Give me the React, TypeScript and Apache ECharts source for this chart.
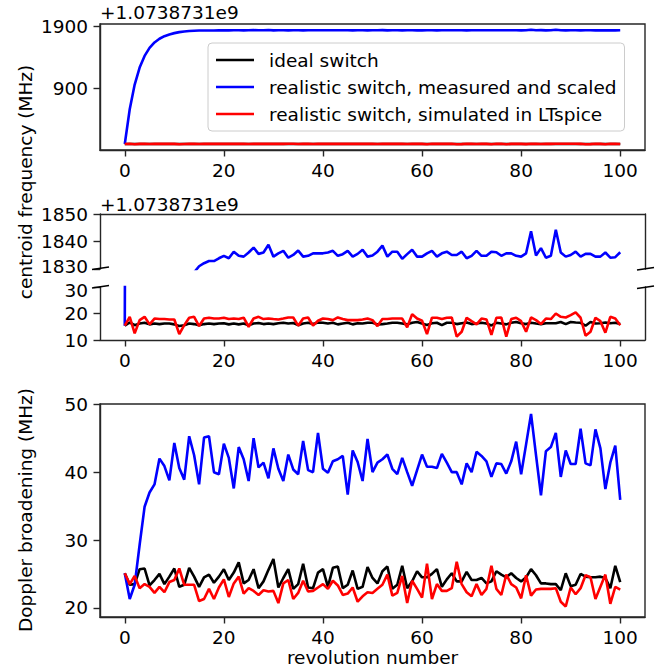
import React, { useEffect, useRef } from 'react';
import * as echarts from 'echarts';

// centroid frequency offsets (MHz) relative to +1.0738731e9
const centroidIdeal = [
  15.4, 16.6, 15.6, 16.2, 16.5, 15.9, 16.2, 16.0, 16.2, 16.2,
  15.9, 15.3, 15.6, 16.2, 16.0, 15.6, 16.0, 16.2, 16.0, 16.2,
  16.3, 15.9, 16.2, 15.9, 16.2, 15.6, 16.2, 16.4, 16.0, 16.2,
  16.0, 16.3, 16.5, 16.2, 16.4, 15.6, 16.2, 16.5, 16.0, 16.6,
  16.5, 16.2, 16.5, 15.9, 16.2, 16.5, 15.9, 16.3, 16.2, 16.5,
  16.5, 15.9, 16.0, 16.2, 16.5, 16.5, 16.2, 15.9, 16.5, 16.8,
  16.2, 15.7, 16.3, 16.5, 15.6, 16.5, 16.5, 16.0, 16.3, 16.6,
  16.0, 16.2, 16.5, 16.2, 15.5, 16.5, 16.2, 15.9, 16.5, 16.8,
  16.3, 16.0, 16.5, 16.2, 16.0, 16.3, 16.3, 16.3, 16.8, 16.0,
  16.8, 16.6, 16.5, 15.4, 16.8, 16.2, 16.3, 16.6, 16.3, 16.5, 16.0,
];
const centroidMeasured = [
  15.4, 572, 967, 1239, 1425, 1553, 1640, 1700, 1741, 1769,
  1790, 1806, 1816, 1823, 1828.8, 1831, 1832.1, 1832.9, 1832.9, 1833.9,
  1834.8, 1833.9, 1836.3, 1834.8, 1834.5, 1836, 1837.8, 1835.5, 1836, 1838.8,
  1834.5, 1835.7, 1836.6, 1834.1, 1835.1, 1836.7, 1834.5, 1834.8, 1835.7, 1835.7,
  1835.7, 1836, 1836.6, 1834.8, 1835.4, 1836.6, 1834.5, 1835.5, 1837, 1834.5,
  1834.9, 1836.3, 1838.5, 1834.5, 1836.3, 1836.3, 1833.7, 1835.4, 1837, 1834.5,
  1834.5, 1835.7, 1836.6, 1834.5, 1835.7, 1836.3, 1835.1, 1835.1, 1836.3, 1833.9,
  1834.8, 1836.6, 1834.8, 1834.8, 1836.3, 1836.1, 1834.8, 1835.7, 1835.7, 1834.8,
  1834.5, 1835.7, 1843.7, 1834.9, 1837.6, 1834.1, 1834.8, 1844.3, 1836, 1834.5,
  1835.1, 1836.3, 1834.5, 1835.5, 1835.5, 1834.5, 1834.5, 1836, 1834.1, 1834.3, 1836.1,
];
const centroidSimulated = [
  15.4, 18.75, 12.5, 17.5, 18.75, 15.9, 18.1, 17.9, 17.9, 17.75,
  17.75, 12.25, 15.6, 18.4, 18.75, 15.25, 18.1, 18.4, 18.1, 18.1,
  18.4, 17.9, 18.1, 17.9, 18.4, 15.0, 18.1, 18.75, 17.9, 18.1,
  17.9, 17.75, 18.1, 18.5, 18.5, 15.4, 18.1, 18.5, 15.4, 17.25,
  18.1, 17.9, 17.5, 18.5, 17.9, 17.5, 17.5, 17.5, 17.75, 18.1,
  17.5, 15.25, 17.9, 17.9, 18.1, 18.1, 18.1, 14.75, 19.75, 18.1,
  17.25, 12.25, 18.4, 18.4, 17.9, 18.4, 18.5, 11.25, 13.1, 18.4,
  17.1, 15.9, 18.1, 17.75, 11.9, 18.4, 18.5, 11.25, 17.9, 18.4,
  17.1, 13.1, 18.5, 17.5, 16.0, 18.1, 17.9, 20.0, 18.75, 18.5,
  19.4, 20.4, 18.4, 11.6, 13.1, 18.4, 17.1, 12.75, 18.75, 18.1, 15.6,
];

// Doppler broadening (MHz)
const dopplerIdeal = [
  25.1, 23.4, 23.5, 25.7, 25.8, 23.3, 24.1, 25.0, 23.5, 24.6,
  25.8, 23.1, 23.4, 25.9, 24.6, 23.1, 24.5, 24.9, 23.7, 24.6,
  25.7, 24.1, 25.2, 26.7, 23.6, 24.1, 25.7, 22.9, 23.9, 25.6,
  27.2, 23.0, 24.4, 25.7, 22.8, 23.5, 26.5, 23.0, 22.9, 25.2,
  25.7, 23.1, 25.9, 26.1, 22.9, 23.4, 25.5, 22.8, 23.1, 26.0,
  24.4, 23.6, 25.4, 26.1, 22.8, 23.4, 26.2, 22.9, 23.9, 25.4,
  24.5, 24.5, 25.0, 25.7, 23.1, 24.2, 25.1, 23.9, 23.9, 25.3,
  24.1, 24.1, 24.4, 23.6, 23.9, 25.4, 24.9, 24.5, 25.1, 24.4,
  23.9, 24.5, 25.7, 24.8, 23.6, 23.6, 23.5, 23.5, 22.6, 25.1,
  23.2, 23.4, 25.0, 24.6, 24.5, 24.5, 24.6, 24.4, 22.9, 26.2, 23.8,
];
const dopplerMeasured = [
  25.1, 21.3, 23.4, 29.3, 34.9, 37.0, 38.2, 42.0, 40.9, 38.8,
  44.3, 40.6, 38.9, 45.3, 42.5, 38.2, 45.1, 45.3, 40.0, 39.7,
  44.2, 42.1, 37.6, 43.7, 41.9, 38.7, 45.0, 40.7, 41.4, 39.1,
  43.5, 40.5, 38.7, 42.6, 40.4, 39.7, 44.6, 40.3, 40.0, 45.8,
  40.5, 39.9, 41.6, 41.9, 42.4, 36.7, 43.2, 41.5, 38.7, 44.9,
  40.0, 41.4, 41.9, 42.6, 40.5, 39.7, 42.1, 40.0, 38.0, 40.3,
  42.6, 40.8, 40.8, 40.6, 42.7, 41.4, 40.0, 40.0, 38.2, 41.3,
  40.0, 43.0, 42.4, 41.6, 39.3, 41.3, 41.2, 39.8, 41.6, 44.5,
  39.7, 44.1, 48.6, 42.5, 36.6, 43.1, 43.7, 45.8, 39.3, 43.2,
  41.2, 41.2, 46.4, 41.3, 41.0, 46.3, 43.5, 37.5, 41.4, 43.9, 35.9,
];
const dopplerSimulated = [
  25.1, 23.5, 24.7, 22.9, 23.5, 23.1, 22.2, 23.1, 22.3, 23.8,
  24.1, 25.8, 23.4, 23.4, 23.4, 21.0, 21.3, 22.8, 21.3, 23.0,
  24.2, 21.6, 23.6, 24.6, 22.1, 22.9, 22.5, 21.9, 22.6, 22.4,
  22.5, 20.7, 23.6, 24.1, 21.3, 22.2, 24.0, 22.4, 22.5, 23.0,
  23.5, 22.8, 24.0, 23.3, 21.9, 22.1, 23.0, 20.9, 21.7, 22.3,
  22.2, 22.8, 23.4, 24.9, 21.8, 22.2, 24.7, 20.7, 24.0, 22.8,
  21.5, 26.5, 21.3, 23.5, 22.5, 22.5, 22.9, 26.8, 23.5, 22.3,
  21.7, 23.5, 21.9, 22.8, 26.2, 22.8, 21.9, 24.9, 23.5, 23.0,
  21.4, 24.8, 21.8, 22.7, 22.8, 22.8, 22.8, 22.9, 20.9, 20.2,
  23.0, 22.0, 22.9, 24.8, 24.5, 21.3, 23.1, 24.9, 20.6, 23.1, 22.7,
];

const seriesNames = [
  'ideal switch',
  'realistic switch, measured and scaled',
  'realistic switch, simulated in LTspice',
];
const seriesColors = ['#000000', '#0000ff', '#ff0000'];
const xTicks = [0, 20, 40, 60, 80, 100];
const topYTicks = [900, 1900];
const dopplerYTicks = [20, 30, 40, 50];
const offsetText = '+1.0738731e9';
const yTitleCentroid = 'centroid frequency (MHz)';
const yTitleDoppler = 'Doppler broadening (MHz)';
const xTitle = 'revolution number';

const FONT = 'DejaVu Sans';
const FS = 18.5;
const SPINE = '#262626';
const SPINE_W = 1.4;

const toXY = (arr: number[]) => arr.map((v, i) => [i, v]);
const plain = (v: number) => String(v);

export default function App() {
  const ref = useRef<HTMLDivElement>(null);
  useEffect(() => {
    if (!ref.current) return;
    const chart = echarts.init(ref.current, undefined, { renderer: 'svg' });
    const labelStyle = { fontFamily: FONT, fontSize: FS, color: '#000' };
    const lineStyle = { color: SPINE, width: SPINE_W };

    const xAxisBase = (gridIndex: number) => ({
      type: 'value',
      gridIndex,
      min: -5,
      max: 105,
      splitLine: { show: false },
      axisLine: { show: true, onZero: false, lineStyle },
      axisTick: { show: true, customValues: xTicks, length: 6.5, lineStyle },
      axisLabel: { show: true, customValues: xTicks, margin: 11, formatter: plain, ...labelStyle },
    });
    const yAxisBase = (gridIndex: number, min: number, max: number, extra: any = {}) => ({
      type: 'value',
      gridIndex,
      min,
      max,
      splitLine: { show: false },
      axisLine: { show: true, onZero: false, lineStyle },
      axisTick: { show: true, length: 6.5, lineStyle, ...(extra.ticks || {}) },
      axisLabel: {
        show: true,
        margin: 12,
        formatter: plain,
        ...labelStyle,
        ...(extra.labels || {}),
      },
      ...(extra.axis || {}),
    });
    const rightAxis = (gridIndex: number, min: number, max: number) => ({
      type: 'value',
      gridIndex,
      position: 'right',
      min,
      max,
      splitLine: { show: false },
      axisLine: { show: true, onZero: false, lineStyle },
      axisTick: { show: false },
      axisLabel: { show: false },
    });

    // labels at the axis break sit very close; nudge them apart slightly
    const richNudge = {
      up: { fontFamily: FONT, fontSize: FS, color: '#000', padding: [0, 0, 6, 0] },
      down: { fontFamily: FONT, fontSize: FS, color: '#000', padding: [6, 0, 0, 0] },
    };

    const centroid = [centroidIdeal, centroidMeasured, centroidSimulated];
    const doppler = [dopplerIdeal, dopplerMeasured, dopplerSimulated];
    const mk = (arr: number[], k: number, xi: number, yi: number) => ({
      type: 'line',
      name: seriesNames[k],
      xAxisIndex: xi,
      yAxisIndex: yi,
      data: toXY(arr),
      symbol: 'none',
      showSymbol: false,
      clip: true,
      color: seriesColors[k],
      lineStyle: { color: seriesColors[k], width: 2.6 },
      z: 2 + k,
    });
    const series: any[] = [];
    centroid.forEach((a, k) => series.push(mk(a, k, 0, 0)));
    centroid.forEach((a, k) => series.push(mk(a, k, 1, 1)));
    centroid.forEach((a, k) => series.push(mk(a, k, 2, 3)));
    doppler.forEach((a, k) => series.push(mk(a, k, 3, 5)));

    const breakLine = (x1: number, y1: number, x2: number, y2: number) => ({
      type: 'line',
      shape: { x1, y1, x2, y2 },
      style: { stroke: '#000', lineWidth: 1.4 },
      z: 100,
    });
    const txt = (text: string, x: number, y: number, opts: any = {}) => ({
      type: 'text',
      x,
      y,
      rotation: opts.rotation || 0,
      style: {
        text,
        fontFamily: FONT,
        fontSize: FS,
        fill: '#000',
        align: opts.align || 'center',
        verticalAlign: 'middle',
      },
      z: 100,
    });

    chart.setOption({
      animation: false,
      backgroundColor: '#ffffff',
      grid: [
        { left: 100, top: 24, width: 545, height: 126, show: true, borderColor: SPINE, borderWidth: SPINE_W },
        { left: 100, top: 214, width: 545, height: 55 },
        { left: 100, top: 287, width: 545, height: 53 },
        { left: 100, top: 404, width: 545, height: 213, show: true, borderColor: SPINE, borderWidth: SPINE_W },
      ],
      xAxis: [
        xAxisBase(0),
        {
          type: 'value',
          gridIndex: 1,
          position: 'top',
          min: -5,
          max: 105,
          splitLine: { show: false },
          axisLine: { show: true, onZero: false, lineStyle },
          axisTick: { show: false },
          axisLabel: { show: false },
        },
        xAxisBase(2),
        {
          ...xAxisBase(3),
          name: xTitle,
          nameLocation: 'middle',
          nameGap: 30,
          nameTextStyle: { fontFamily: FONT, fontSize: FS, color: '#000' },
        },
      ],
      yAxis: [
        yAxisBase(0, -80.4, 1936, { ticks: { customValues: topYTicks }, labels: { customValues: topYTicks } }),
        yAxisBase(1, 1830, 1850, {
          axis: { interval: 10 },
          labels: { formatter: (v: number) => (v === 1830 ? `{up|${v}}` : String(v)), rich: richNudge },
        }),
        rightAxis(1, 1830, 1850),
        yAxisBase(2, 10, 30, {
          axis: { interval: 10 },
          labels: { formatter: (v: number) => (v === 30 ? `{down|${v}}` : String(v)), rich: richNudge },
        }),
        rightAxis(2, 10, 30),
        yAxisBase(3, 18.65, 50.05, { ticks: { customValues: dopplerYTicks }, labels: { customValues: dopplerYTicks } }),
      ],
      legend: {
        data: seriesNames,
        orient: 'vertical',
        left: 208,
        top: 43,
        padding: [7, 8, 7, 8],
        itemGap: 7,
        itemWidth: 38,
        itemHeight: 2.6,
        icon: 'rect',
        backgroundColor: 'rgba(255,255,255,0.8)',
        borderColor: '#cccccc',
        borderWidth: 1,
        borderRadius: 4,
        selectedMode: false,
        textStyle: { fontFamily: FONT, fontSize: FS, color: '#000', lineHeight: 20, padding: [0, 0, 0, 10] },
      },
      graphic: [
        txt(offsetText, 100, 12, { align: 'left' }),
        txt(offsetText, 100, 204, { align: 'left' }),
        txt(yTitleCentroid, 25, 182, { rotation: Math.PI / 2 }),
        txt(yTitleDoppler, 25, 510, { rotation: Math.PI / 2 }),
        breakLine(92, 269.5, 109, 267),
        breakLine(92, 288, 109, 285.5),
        breakLine(637, 270, 654, 267.5),
        breakLine(637, 288.5, 654, 286),
      ],
      series,
    });
    return () => chart.dispose();
  }, []);
  return <div ref={ref} style={{ position: 'absolute', left: 0, top: 0, width: 672, height: 671 }} />;
}
